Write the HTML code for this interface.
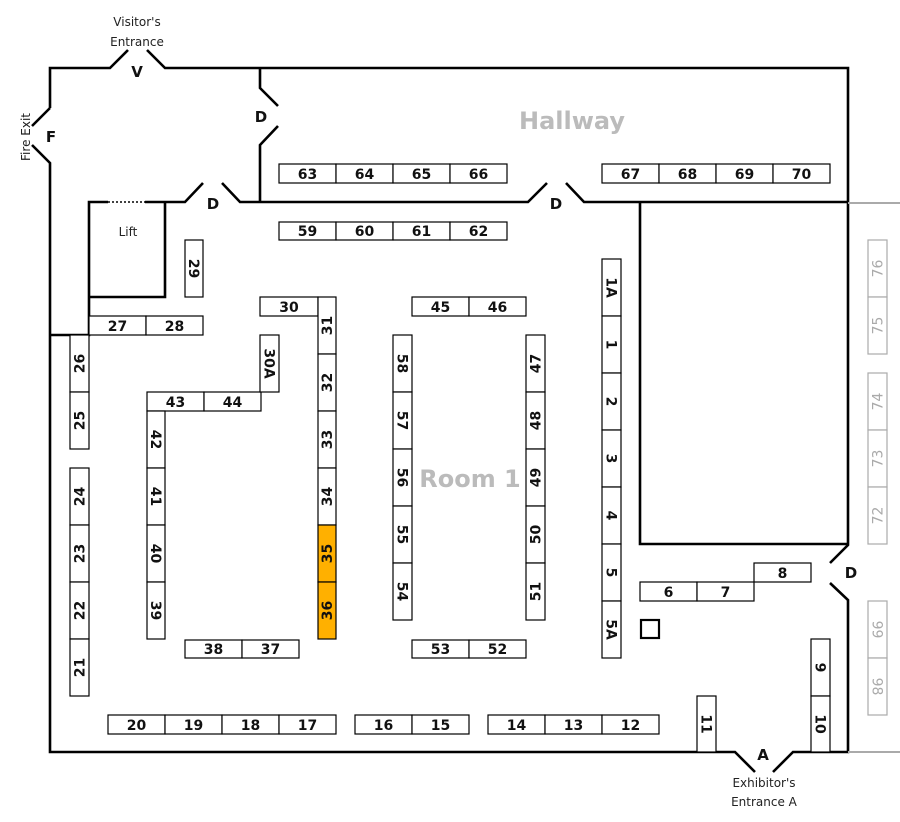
<!DOCTYPE html>
<html><head><meta charset="utf-8"><style>
html,body{margin:0;padding:0;background:#fff;}
svg{display:block;}
.b{fill:#fff;stroke:#000;stroke-width:1.2;}
.o{fill:#FFB000;stroke:#000;stroke-width:1.2;}
.g{fill:#fff;stroke:#aaa;stroke-width:1.2;}
.w{stroke:#000;stroke-width:2.6;fill:none;}
text{font-family:"DejaVu Sans","Liberation Sans",sans-serif;font-weight:bold;font-size:14px;fill:#111;text-anchor:middle;}
.gt{fill:#aaa;font-weight:normal;}
.lbl{font-family:"DejaVu Sans","Liberation Sans",sans-serif;font-weight:normal;font-size:12px;fill:#222;}
.big{font-size:24px;fill:#bbb;}
</style></head><body>
<svg width="900" height="822" viewBox="0 0 900 822" xmlns="http://www.w3.org/2000/svg">
<!-- walls -->
<polyline class="w" points="50,108 50,68 110,68 128,50"/>
<polyline class="w" points="147,50 165,68 848,68 848,545 830,563"/>
<polyline class="w" points="830,583 848,600 848,752 793,752 773,772"/>
<polyline class="w" points="755,772 735,752 50,752 50,163 32,145"/>
<line class="w" x1="50" y1="108" x2="32" y2="126"/>
<polyline class="w" points="260,68 260,88 278,106"/>
<polyline class="w" points="278,126 260,145 260,202"/>
<polyline class="w" points="145,202 185,202 203,183"/>
<polyline class="w" points="222,183 240,202 528,202 547,183"/>
<polyline class="w" points="566,183 584,202 848,202"/>
<polyline class="w" points="108,202 89,202 89,335 50,335"/>
<polyline class="w" points="89,297 165,297 165,202"/>
<line x1="108" y1="202" x2="145" y2="202" stroke="#000" stroke-width="1.5" stroke-dasharray="2,2"/>
<polyline class="w" points="640,202 640,544 848,544"/>
<rect x="641" y="620" width="18" height="18" fill="none" stroke="#000" stroke-width="2.2"/>
<line x1="848" y1="203" x2="900" y2="203" stroke="#aaa" stroke-width="2"/>
<line x1="848" y1="752" x2="900" y2="752" stroke="#aaa" stroke-width="2"/>

<!-- labels -->
<text class="lbl" x="137" y="26">Visitor's</text>
<text class="lbl" x="137" y="46">Entrance</text>
<text x="137" y="77" style="font-size:15px">V</text>
<text class="lbl" transform="translate(30,137) rotate(-90)">Fire Exit</text>
<text x="51" y="142" style="font-size:15px">F</text>
<text x="261" y="122" style="font-size:15px">D</text>
<text x="213" y="209" style="font-size:15px">D</text>
<text x="556" y="209" style="font-size:15px">D</text>
<text x="851" y="578" style="font-size:15px">D</text>
<text x="763" y="760" style="font-size:15px">A</text>
<text class="lbl" x="764" y="787">Exhibitor's</text>
<text class="lbl" x="764" y="806">Entrance A</text>
<text class="lbl" x="128" y="236">Lift</text>
<text class="big" x="572" y="129">Hallway</text>
<text class="big" x="470" y="487">Room 1</text>

<!-- horizontal booths -->
<g>
<rect class="b" x="279" y="164" width="57" height="19"/><text x="307.5" y="179">63</text>
<rect class="b" x="336" y="164" width="57" height="19"/><text x="364.5" y="179">64</text>
<rect class="b" x="393" y="164" width="57" height="19"/><text x="421.5" y="179">65</text>
<rect class="b" x="450" y="164" width="57" height="19"/><text x="478.5" y="179">66</text>
<rect class="b" x="602" y="164" width="57" height="19"/><text x="630.5" y="179">67</text>
<rect class="b" x="659" y="164" width="57" height="19"/><text x="687.5" y="179">68</text>
<rect class="b" x="716" y="164" width="57" height="19"/><text x="744.5" y="179">69</text>
<rect class="b" x="773" y="164" width="57" height="19"/><text x="801.5" y="179">70</text>
<rect class="b" x="279" y="222" width="57" height="18"/><text x="307.5" y="236">59</text>
<rect class="b" x="336" y="222" width="57" height="18"/><text x="364.5" y="236">60</text>
<rect class="b" x="393" y="222" width="57" height="18"/><text x="421.5" y="236">61</text>
<rect class="b" x="450" y="222" width="57" height="18"/><text x="478.5" y="236">62</text>
<rect class="b" x="260" y="297" width="58" height="19"/><text x="289" y="312">30</text>
<rect class="b" x="412" y="297" width="57" height="19"/><text x="440.5" y="312">45</text>
<rect class="b" x="469" y="297" width="57" height="19"/><text x="497.5" y="312">46</text>
<rect class="b" x="89" y="316" width="57" height="19"/><text x="117.5" y="331">27</text>
<rect class="b" x="146" y="316" width="57" height="19"/><text x="174.5" y="331">28</text>
<rect class="b" x="147" y="392" width="57" height="19"/><text x="175.5" y="407">43</text>
<rect class="b" x="204" y="392" width="57" height="19"/><text x="232.5" y="407">44</text>
<rect class="b" x="185" y="640" width="57" height="18"/><text x="213.5" y="654">38</text>
<rect class="b" x="242" y="640" width="57" height="18"/><text x="270.5" y="654">37</text>
<rect class="b" x="412" y="640" width="57" height="18"/><text x="440.5" y="654">53</text>
<rect class="b" x="469" y="640" width="57" height="18"/><text x="497.5" y="654">52</text>
<rect class="b" x="108" y="715" width="57" height="19"/><text x="136.5" y="730">20</text>
<rect class="b" x="165" y="715" width="57" height="19"/><text x="193.5" y="730">19</text>
<rect class="b" x="222" y="715" width="57" height="19"/><text x="250.5" y="730">18</text>
<rect class="b" x="279" y="715" width="57" height="19"/><text x="307.5" y="730">17</text>
<rect class="b" x="355" y="715" width="57" height="19"/><text x="383.5" y="730">16</text>
<rect class="b" x="412" y="715" width="57" height="19"/><text x="440.5" y="730">15</text>
<rect class="b" x="488" y="715" width="57" height="19"/><text x="516.5" y="730">14</text>
<rect class="b" x="545" y="715" width="57" height="19"/><text x="573.5" y="730">13</text>
<rect class="b" x="602" y="715" width="57" height="19"/><text x="630.5" y="730">12</text>
<rect class="b" x="754" y="563" width="57" height="19"/><text x="782.5" y="578">8</text>
<rect class="b" x="640" y="582" width="57" height="19"/><text x="668.5" y="597">6</text>
<rect class="b" x="697" y="582" width="57" height="19"/><text x="725.5" y="597">7</text>
</g>

<!-- vertical booths -->
<g>
<rect class="b" x="185" y="240" width="18" height="57"/><text transform="translate(194,268.5) rotate(90)" dy="5">29</text>
<rect class="b" x="260" y="335" width="19" height="57"/><text transform="translate(269.5,363.5) rotate(90)" dy="5">30A</text>

<rect class="b" x="318" y="297" width="18" height="57"/><text transform="translate(327,325.5) rotate(-90)" dy="5">31</text>
<rect class="b" x="318" y="354" width="18" height="57"/><text transform="translate(327,382.5) rotate(-90)" dy="5">32</text>
<rect class="b" x="318" y="411" width="18" height="57"/><text transform="translate(327,439.5) rotate(-90)" dy="5">33</text>
<rect class="b" x="318" y="468" width="18" height="57"/><text transform="translate(327,496.5) rotate(-90)" dy="5">34</text>
<rect class="o" x="318" y="525" width="18" height="57"/><text transform="translate(327,553.5) rotate(-90)" dy="5">35</text>
<rect class="o" x="318" y="582" width="18" height="57"/><text transform="translate(327,610.5) rotate(-90)" dy="5">36</text>

<rect class="b" x="147" y="411" width="18" height="57"/><text transform="translate(156,439.5) rotate(90)" dy="5">42</text>
<rect class="b" x="147" y="468" width="18" height="57"/><text transform="translate(156,496.5) rotate(90)" dy="5">41</text>
<rect class="b" x="147" y="525" width="18" height="57"/><text transform="translate(156,553.5) rotate(90)" dy="5">40</text>
<rect class="b" x="147" y="582" width="18" height="57"/><text transform="translate(156,610.5) rotate(90)" dy="5">39</text>

<rect class="b" x="70" y="335" width="19" height="57"/><text transform="translate(79.5,363.5) rotate(-90)" dy="5">26</text>
<rect class="b" x="70" y="392" width="19" height="57"/><text transform="translate(79.5,420.5) rotate(-90)" dy="5">25</text>
<rect class="b" x="70" y="468" width="19" height="57"/><text transform="translate(79.5,496.5) rotate(-90)" dy="5">24</text>
<rect class="b" x="70" y="525" width="19" height="57"/><text transform="translate(79.5,553.5) rotate(-90)" dy="5">23</text>
<rect class="b" x="70" y="582" width="19" height="57"/><text transform="translate(79.5,610.5) rotate(-90)" dy="5">22</text>
<rect class="b" x="70" y="639" width="19" height="57"/><text transform="translate(79.5,667.5) rotate(-90)" dy="5">21</text>

<rect class="b" x="393" y="335" width="19" height="57"/><text transform="translate(402.5,363.5) rotate(90)" dy="5">58</text>
<rect class="b" x="393" y="392" width="19" height="57"/><text transform="translate(402.5,420.5) rotate(90)" dy="5">57</text>
<rect class="b" x="393" y="449" width="19" height="57"/><text transform="translate(402.5,477.5) rotate(90)" dy="5">56</text>
<rect class="b" x="393" y="506" width="19" height="57"/><text transform="translate(402.5,534.5) rotate(90)" dy="5">55</text>
<rect class="b" x="393" y="563" width="19" height="57"/><text transform="translate(402.5,591.5) rotate(90)" dy="5">54</text>

<rect class="b" x="526" y="335" width="19" height="57"/><text transform="translate(535.5,363.5) rotate(-90)" dy="5">47</text>
<rect class="b" x="526" y="392" width="19" height="57"/><text transform="translate(535.5,420.5) rotate(-90)" dy="5">48</text>
<rect class="b" x="526" y="449" width="19" height="57"/><text transform="translate(535.5,477.5) rotate(-90)" dy="5">49</text>
<rect class="b" x="526" y="506" width="19" height="57"/><text transform="translate(535.5,534.5) rotate(-90)" dy="5">50</text>
<rect class="b" x="526" y="563" width="19" height="57"/><text transform="translate(535.5,591.5) rotate(-90)" dy="5">51</text>

<rect class="b" x="602" y="259" width="19" height="57"/><text transform="translate(611.5,287.5) rotate(90)" dy="5">1A</text>
<rect class="b" x="602" y="316" width="19" height="57"/><text transform="translate(611.5,344.5) rotate(90)" dy="5">1</text>
<rect class="b" x="602" y="373" width="19" height="57"/><text transform="translate(611.5,401.5) rotate(90)" dy="5">2</text>
<rect class="b" x="602" y="430" width="19" height="57"/><text transform="translate(611.5,458.5) rotate(90)" dy="5">3</text>
<rect class="b" x="602" y="487" width="19" height="57"/><text transform="translate(611.5,515.5) rotate(90)" dy="5">4</text>
<rect class="b" x="602" y="544" width="19" height="57"/><text transform="translate(611.5,572.5) rotate(90)" dy="5">5</text>
<rect class="b" x="602" y="601" width="19" height="57"/><text transform="translate(611.5,629.5) rotate(90)" dy="5">5A</text>

<rect class="b" x="697" y="696" width="19" height="56"/><text transform="translate(706.5,724) rotate(90)" dy="5">11</text>
<rect class="b" x="811" y="639" width="19" height="57"/><text transform="translate(820.5,667.5) rotate(90)" dy="5">9</text>
<rect class="b" x="811" y="696" width="19" height="56"/><text transform="translate(820.5,724) rotate(90)" dy="5">10</text>

<rect class="g" x="868" y="240" width="19" height="57"/><text class="gt" transform="translate(877.5,268.5) rotate(-90)" dy="5">76</text>
<rect class="g" x="868" y="297" width="19" height="57"/><text class="gt" transform="translate(877.5,325.5) rotate(-90)" dy="5">75</text>
<rect class="g" x="868" y="373" width="19" height="57"/><text class="gt" transform="translate(877.5,401.5) rotate(-90)" dy="5">74</text>
<rect class="g" x="868" y="430" width="19" height="57"/><text class="gt" transform="translate(877.5,458.5) rotate(-90)" dy="5">73</text>
<rect class="g" x="868" y="487" width="19" height="57"/><text class="gt" transform="translate(877.5,515.5) rotate(-90)" dy="5">72</text>
<rect class="g" x="868" y="601" width="19" height="57"/><text class="gt" transform="translate(877.5,629.5) rotate(90)" dy="5">99</text>
<rect class="g" x="868" y="658" width="19" height="57"/><text class="gt" transform="translate(877.5,686.5) rotate(90)" dy="5">98</text>
</g>
</svg>
</body></html>
